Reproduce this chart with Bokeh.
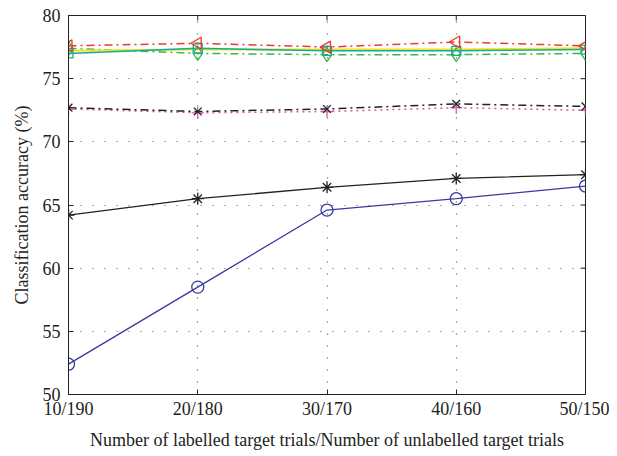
import math
from bokeh.plotting import figure
from bokeh.models import FixedTicker, Range1d
from bokeh.embed import file_html
from bokeh.resources import INLINE

x_labels = ["10/190", "20/180", "30/170", "40/160", "50/150"]
x_pos = [0, 1, 2, 3, 4]
y_ticks = [50, 55, 60, 65, 70, 75, 80]

blue_circle = [52.4, 58.5, 64.6, 65.5, 66.5]
black_star = [64.2, 65.5, 66.4, 67.1, 67.4]
black_dashdot = [72.7, 72.4, 72.6, 73.0, 72.8]
magenta_dot = [72.6, 72.3, 72.4, 72.7, 72.5]
red_tri = [77.6, 77.8, 77.5, 77.9, 77.6]
yellow_line = [77.2, 77.3, 77.3, 77.3, 77.4]
cyan_square = [77.0, 77.4, 77.2, 77.2, 77.3]
green_diamond = [77.4, 77.0, 76.9, 76.9, 77.0]

FONT = "Liberation Serif"
X0, X1, Y0, Y1 = 0, 4, 50, 80

p = figure(width=609, height=452, output_backend="svg", toolbar_location=None,
           x_range=Range1d(X0, X1), y_range=Range1d(Y0, Y1),
           min_border_left=68, min_border_right=24, min_border_top=15, min_border_bottom=56)
p.outline_line_color = "#222222"
p.outline_line_width = 1
p.background_fill_color = "white"

xt = FixedTicker(ticks=x_pos)
yt = FixedTicker(ticks=y_ticks)
p.xaxis.ticker = xt
p.yaxis.ticker = yt
p.xaxis.major_label_overrides = {i: l for i, l in zip(x_pos, x_labels)}

for ax in [p.xaxis[0], p.yaxis[0]]:
    ax.major_tick_in = 5
    ax.major_tick_out = 0
    ax.minor_tick_in = 0
    ax.minor_tick_out = 0
    ax.axis_line_color = "#222222"
    ax.major_tick_line_color = "#222222"
    ax.major_label_text_font = FONT
    ax.major_label_text_font_size = "18px"
    ax.major_label_text_color = "#222222"
    ax.axis_label_text_font = FONT
    ax.axis_label_text_font_size = "18px"
    ax.axis_label_text_font_style = "normal"
    ax.axis_label_text_color = "#222222"

p.xaxis.axis_label = "Number of labelled target trials/Number of unlabelled target trials"
p.yaxis.axis_label = "Classification accuracy (%)"
p.xaxis.major_label_standoff = 4
p.xaxis.axis_label_standoff = 8
p.yaxis.major_label_standoff = 8
p.yaxis.axis_label_standoff = 8

p.xgrid.ticker = xt
p.ygrid.ticker = yt
for g in [p.xgrid[0], p.ygrid[0]]:
    g.grid_line_color = "#555555"
    g.grid_line_dash = "1 11"
    g.grid_line_width = 1.2

# inward ticks on the top and right frame edges (clipped half-dashes)
p.scatter([X1] * len(y_ticks), y_ticks, marker="dash", size=10, line_color="#222222", line_width=1)
p.scatter(x_pos, [Y1] * len(x_pos), marker="dash", angle=math.pi / 2, size=10, line_color="#222222", line_width=1)

# top group
p.line(x_pos, green_diamond, line_color="#3cb44a", line_width=1.5, line_dash="8 4 2 4")
p.line(x_pos, yellow_line, line_color="#f2e21a", line_width=2)
p.line(x_pos, cyan_square, line_color="#13aaa0", line_width=1.5)
p.line(x_pos, red_tri, line_color="#ee3a24", line_width=1.5, line_dash="8 4 2 4")
p.scatter(x_pos, green_diamond, marker="diamond", size=14, fill_color=None, line_color="#3cb44a", line_width=1.3)
p.scatter(x_pos, cyan_square, marker="square", size=9, fill_color=None, line_color="#13aaa0", line_width=1.3)
p.scatter(x_pos, red_tri, marker="triangle", angle=math.pi / 2, size=12, fill_color=None, line_color="#ee3a24", line_width=1.3)

# middle group
p.line(x_pos, magenta_dot, line_color="#d25aa8", line_width=1.5, line_dash="2 4")
p.line(x_pos, black_dashdot, line_color="#222222", line_width=1.5, line_dash="8 4 2 4")
p.scatter(x_pos, magenta_dot, marker="cross", size=12, line_color="#d25aa8", line_width=1.3)
p.scatter(x_pos, black_dashdot, marker="x", size=11, line_color="#222222", line_width=1.3)

# lower lines
p.line(x_pos, black_star, line_color="#222222", line_width=1.3)
p.scatter(x_pos, black_star, marker="asterisk", size=12, line_color="#222222", line_width=1.3)
p.line(x_pos, blue_circle, line_color="#3a3aa0", line_width=1.3)
p.scatter(x_pos, blue_circle, marker="circle", size=12, fill_color=None, line_color="#3a3aa0", line_width=1.3)

open("out.html", "w").write(file_html(p, INLINE))
